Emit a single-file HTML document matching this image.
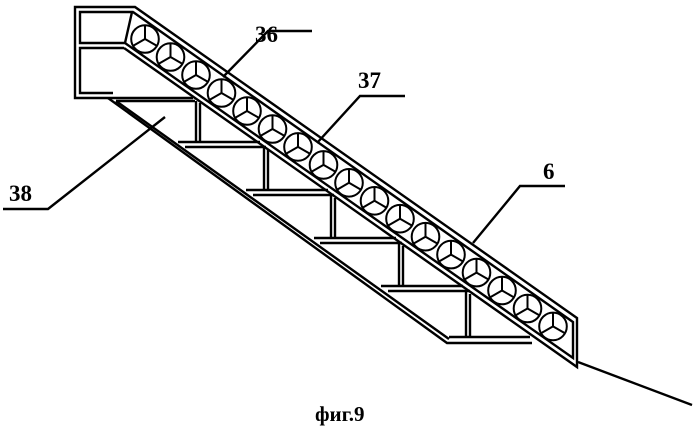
<!DOCTYPE html>
<html><head><meta charset="utf-8"><style>
html,body{margin:0;padding:0;background:#fff;width:698px;height:445px;overflow:hidden}
text{font-family:"Liberation Serif",serif;font-weight:bold}
</style></head><body>
<svg width="698" height="445" viewBox="0 0 698 445" xmlns="http://www.w3.org/2000/svg">
<defs>
<g id="w" fill="none" stroke="#000" stroke-width="2">
<circle cx="0" cy="0" r="13.8"/>
<line x1="0" y1="0" x2="0" y2="-13.8"/>
<line x1="0" y1="0" x2="-12" y2="6.9"/>
<line x1="0" y1="0" x2="12" y2="6.9"/>
</g>
</defs>
<g fill="none" stroke="#000" stroke-width="2.4" stroke-linejoin="miter">
<polyline points="110,98 75,98 75,7 135,7 577,318 577,367 124,48"/>
<polyline points="125,43 80,43 80,12 132,12 125,43 573,358 573,322 133,12"/>
<polyline points="124,48 80,48 80,93 113,93"/>
<polyline points="108,98 447,343 532,343"/>
<polyline points="116,101 449,339"/>
<line x1="116" y1="101" x2="195" y2="101"/>
<line x1="110" y1="98" x2="193" y2="98"/>
<line x1="178" y1="142" x2="260" y2="142"/><line x1="185" y1="147" x2="266" y2="147"/>
<line x1="246" y1="190" x2="328" y2="190"/><line x1="253" y1="195" x2="334" y2="195"/>
<line x1="314" y1="238" x2="396" y2="238"/><line x1="320" y1="243" x2="402" y2="243"/>
<line x1="381" y1="286" x2="463" y2="286"/><line x1="388" y1="291" x2="470" y2="291"/>
<line x1="449" y1="337" x2="530" y2="337"/>
<line x1="196" y1="101" x2="196" y2="142"/><line x1="200" y1="103" x2="200" y2="142"/>
<line x1="264" y1="147" x2="264" y2="190"/><line x1="268" y1="150" x2="268" y2="190"/>
<line x1="331" y1="195" x2="331" y2="238"/><line x1="335" y1="198" x2="335" y2="238"/>
<line x1="399" y1="243" x2="399" y2="286"/><line x1="403" y1="246" x2="403" y2="286"/>
<line x1="466" y1="291" x2="466" y2="337"/><line x1="470" y1="294" x2="470" y2="337"/>
<polyline points="312,31 268,31 223,77"/>
<polyline points="405,96 360,96 317,143"/>
<polyline points="565,186 520,186 473,243"/>
<polyline points="3,209 48,209 165,117"/>
<line x1="578" y1="362" x2="692" y2="405"/>
</g>
<use href="#w" x="145" y="39"/>
<use href="#w" x="170.5" y="57"/>
<use href="#w" x="196" y="75"/>
<use href="#w" x="221.5" y="93"/>
<use href="#w" x="247" y="111"/>
<use href="#w" x="272.5" y="129"/>
<use href="#w" x="298" y="146.9"/>
<use href="#w" x="323.5" y="164.9"/>
<use href="#w" x="349" y="182.8"/>
<use href="#w" x="374.5" y="200.8"/>
<use href="#w" x="400" y="218.7"/>
<use href="#w" x="425.5" y="236.7"/>
<use href="#w" x="451" y="254.6"/>
<use href="#w" x="476.5" y="272.6"/>
<use href="#w" x="502" y="290.5"/>
<use href="#w" x="527.5" y="308.5"/>
<use href="#w" x="553" y="326.4"/>
<text x="255" y="42" font-size="23">36</text>
<text x="358" y="88" font-size="23">37</text>
<text x="543" y="179" font-size="23">6</text>
<text x="9" y="201" font-size="23">38</text>
<text x="315" y="421" font-size="21">фиг.9</text>
</svg>
</body></html>
